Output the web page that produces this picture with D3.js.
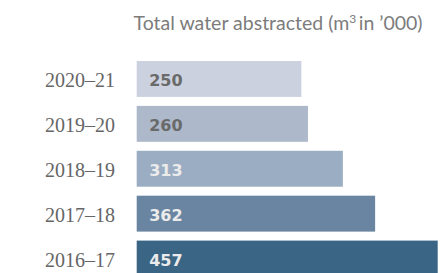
<!DOCTYPE html>
<html>
<head>
<meta charset="utf-8">
<script src="https://cdn.jsdelivr.net/npm/d3@7"></script>
<style>
	body { margin: 0; background: #fff; }
	svg { display: block; }
</style>
</head>
<body>
<svg id="chart" width="445" height="273"></svg>
<script>
const years = ['2020–21', '2019–20', '2018–19', '2017–18', '2016–17']
const values = [250, 260, 313, 362, 457]
const barColors = ['#cbd1de', '#adb8cb', '#9badc2', '#6a85a1', '#3b6585']
const labelColors = ['#6a6a6a', '#6a6a6a', '#ebebeb', '#ebebeb', '#ebebeb']

const svg = d3.select('#chart')
const left = 136.7

const x = d3.scaleLinear().domain([0, 457]).range([0, 301])
const y = d3.scaleBand().domain(years).range([56.5, 281]).paddingInner(0.2).paddingOuter(0.1)

// title
const title = svg.append('text')
	.attr('x', 133.5)
	.attr('y', 30)
	.attr('fill', '#7c7c7c')
	.style('font-family', 'Lato, sans-serif')
	.style('font-size', '19.5px')
title.append('tspan').text('Total water abstracted (m')
title.append('tspan').attr('dy', -7).style('font-size', '12px').text('3')
title.append('tspan').attr('dy', 7).text('\u2009in \u2019000)')

const rows = svg.selectAll('g.row')
	.data(years.map((d, i) => ({ year: d, value: values[i], i })))
	.enter()
	.append('g')
	.attr('class', 'row')

rows.append('rect')
	.attr('x', left)
	.attr('y', d => y(d.year))
	.attr('width', d => x(d.value))
	.attr('height', y.bandwidth())
	.attr('fill', d => barColors[d.i])

rows.append('text')
	.attr('x', 115)
	.attr('y', d => y(d.year) + y.bandwidth() / 2)
	.attr('dy', '0.42em')
	.attr('text-anchor', 'end')
	.attr('fill', '#666')
	.style('font-family', '"Liberation Serif", serif')
	.style('font-size', '20px')
	.text(d => d.year)

rows.append('text')
	.attr('x', left + 12.5)
	.attr('y', d => y(d.year) + y.bandwidth() / 2)
	.attr('dy', '0.44em')
	.attr('fill', d => labelColors[d.i])
	.style('font-family', '"DejaVu Sans", sans-serif')
	.style('font-weight', 'bold')
	.style('font-size', '16px')
	.text(d => d.value)
</script>
</body>
</html>
